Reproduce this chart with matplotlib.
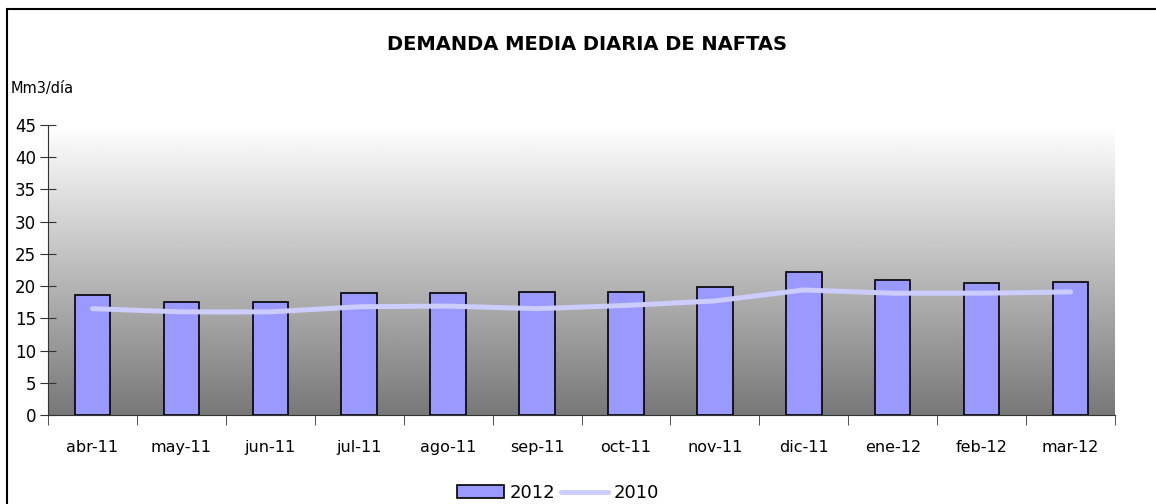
import numpy as np
import matplotlib
matplotlib.use("Agg")
import matplotlib.pyplot as plt
from matplotlib.patches import Rectangle

months = ['abr-11', 'may-11', 'jun-11', 'jul-11', 'ago-11', 'sep-11',
          'oct-11', 'nov-11', 'dic-11', 'ene-12', 'feb-12', 'mar-12']
demand_2012 = [18.6, 17.6, 17.6, 18.9, 18.9, 19.1, 19.1, 19.8, 22.2, 21.0, 20.5, 20.7]
demand_2010 = [16.5, 16.0, 16.0, 16.8, 16.9, 16.5, 17.0, 17.7, 19.4, 18.9, 18.9, 19.1]
y_ticks = [0, 5, 10, 15, 20, 25, 30, 35, 40, 45]

plt.rcParams['font.family'] = ['DejaVu Sans']

fig = plt.figure(figsize=(11.56, 5.04), dpi=100)
W, H = 1156, 504
ax = fig.add_axes([48 / W, 1 - 415 / H, (1115 - 48) / W, (415 - 125) / H])

x = np.arange(len(months))

# grey gradient background
grad = np.linspace(0.47, 1.0, 256).reshape(-1, 1)
ax.imshow(grad, cmap='gray', vmin=0, vmax=1, aspect='auto', origin='lower',
          extent=[-0.5, 11.5, 0, 45], zorder=0)

bars = ax.bar(x, demand_2012, width=0.40, color='#9999FF', edgecolor='black',
              linewidth=1.2, zorder=2, label='2012')
line, = ax.plot(x, demand_2010, color='#CCCCFF', linewidth=3.6,
                solid_capstyle='round', solid_joinstyle='round', zorder=3, label='2010')

ax.set_xlim(-0.5, 11.5)
ax.set_ylim(0, 45)
ax.set_yticks(y_ticks)
ax.set_yticklabels([str(v) for v in y_ticks], fontsize=12)
ax.set_xticks(x)
ax.set_xticklabels(months, fontsize=11.5)
ax.tick_params(axis='x', length=0, pad=18)
ax.set_xticks(np.arange(-0.5, 12, 1), minor=True)
ax.tick_params(axis='x', which='minor', length=7, direction='out', color='#333333')
ax.tick_params(axis='y', length=11, direction='inout', color='#333333', pad=3)

for side in ['top', 'right']:
    ax.spines[side].set_visible(False)
ax.spines['left'].set_color('#333333')
ax.spines['bottom'].set_color('#333333')

fig.text(587 / W, 1 - 45 / H, 'DEMANDA MEDIA DIARIA DE NAFTAS', ha='center', va='center',
         fontsize=14, fontweight='bold')
fig.text(11 / W, 1 - 88 / H, 'Mm3/día', ha='left', va='center', fontsize=10.5)

fig.legend(handles=[bars, line], labels=['2012', '2010'], loc='center',
           bbox_to_anchor=(558 / W, 1 - 493 / H), ncol=2, frameon=False,
           fontsize=13, handlelength=2.6, handletextpad=0.3, columnspacing=0.3)

# outer frame
fig.patches.append(Rectangle((7 / W, -0.1), 1.2, 1 - 9 / H + 0.1, transform=fig.transFigure,
                             fill=False, edgecolor='black', linewidth=1.5))

fig.savefig('out.png', dpi=100)
